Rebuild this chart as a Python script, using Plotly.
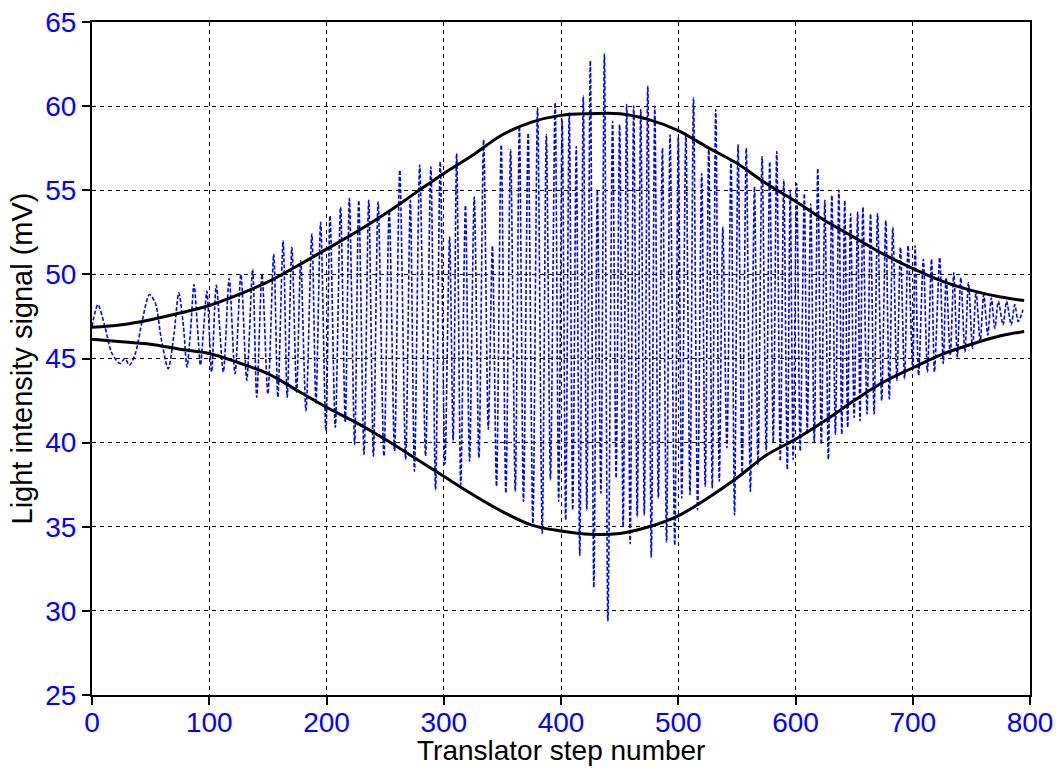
import plotly.graph_objects as go

# Interferometer signal: turning points of the measured light intensity (mV)
signal_step = [
    0, 5, 11, 17, 24, 28, 32, 37, 43, 49, 54, 59, 65, 70, 74, 78, 81, 84, 87, 90,
    92.5, 95, 98, 102, 106, 112, 117, 122, 127, 132, 137, 140.5, 145, 150, 155, 158.5,
    163, 166.5, 170.5, 174.5, 178, 182.5, 187.5, 191, 195, 199.5, 203, 207.5, 212, 216,
    219.5, 224, 227.5, 232, 236, 240, 244, 249, 253.5, 258, 262.5, 267.5, 271.5, 275,
    279.5, 284.5, 289, 293, 297, 301, 305, 308, 311, 314.5, 318.5, 322, 326, 330, 334,
    338, 341.5, 345, 349, 353, 357, 361, 364.5, 368, 372, 376, 380, 384, 387.5, 391,
    395, 398, 401, 404, 407, 410, 413, 416, 419, 422, 425, 428, 431, 434, 437, 440,
    444, 447, 450, 453, 456, 459, 462, 465, 468, 471, 474, 477, 480, 483, 486.5, 490,
    493, 497, 500, 503, 506.5, 510, 513, 516.5, 520, 523, 526, 529, 532, 535, 538,
    541.5, 545, 548, 551, 554.5, 558, 561.5, 565, 568, 571.5, 575, 578, 581, 584, 587,
    590, 593, 595.5, 598, 601, 604, 607.5, 610, 613, 616, 619, 622, 625, 628, 631, 634,
    637, 639.5, 642, 644.5, 647, 650, 653, 655, 657.5, 661, 664, 667, 670, 673.5, 677,
    680, 683, 686.5, 689.5, 693, 696, 700, 702, 705, 709, 712.5, 716, 718.5, 723, 726,
    728.5, 732, 735, 738, 741, 744.5, 747.5, 751, 754, 757.5, 760.5, 764, 767, 770,
    773, 777, 780, 784, 787, 790, 794,
]
signal_mv = [
    46.9, 48.2, 46.9, 45.3, 44.7, 45.0, 44.6, 45.3, 47.3, 48.8, 48.3, 46.2, 44.4, 46.5,
    48.9, 46.9, 44.5, 46.6, 49.4, 46.8, 44.6, 46.6, 49.0, 44.2, 49.35, 44.2, 49.75,
    44.1, 50.0, 43.7, 50.3, 42.7, 50.0, 42.9, 51.2, 42.7,
    52.0, 42.7, 51.6, 43.0, 50.8, 41.9, 52.4, 42.3, 53.1, 40.7, 53.5, 40.9, 54.0, 41.2,
    54.5, 39.9, 54.4, 39.3, 54.4, 39.2, 54.3, 39.2, 53.8, 39.5, 56.2, 39.0, 54.4, 38.3,
    56.5, 39.2, 56.4, 37.2, 56.7, 38.7, 52.2, 40.1, 57.2, 37.5, 54.1, 38.9, 54.6, 39.1,
    58.0, 40.8, 51.7, 37.4, 57.7, 37.0, 57.4, 37.1, 58.8, 36.5, 58.4, 35.2, 59.9, 34.6,
    58.3, 37.8, 60.2, 36.5, 59.2, 35.4, 59.6, 36.0, 57.6, 33.3, 60.6, 36.0, 62.7, 31.4,
    55.0, 37.0, 63.1, 29.4, 59.1, 37.9, 58.9, 35.0, 60.1, 34.0, 60.0, 35.6, 59.8, 35.7,
    61.2, 33.2, 60.0, 36.7, 57.5, 34.1, 58.3, 33.9, 58.2, 36.7, 58.4, 36.9, 60.5, 36.0,
    56.0, 37.4, 57.6, 37.3, 59.8, 37.7, 52.8, 39.7, 56.8, 35.7, 57.7, 38.2, 57.5, 37.1,
    55.2, 38.7, 57.0, 39.5, 56.7, 40.0, 57.3, 38.9, 55.6, 38.4, 55.0, 39.0, 55.4, 39.5,
    54.8, 40.5, 54.2, 40.0, 56.3, 39.9, 54.4, 39.0, 54.7, 40.5, 55.0, 40.5, 54.4, 40.9,
    53.6, 41.5, 53.7, 41.3, 54.0, 41.7, 53.6, 41.7, 53.6, 42.5, 53.2, 42.6, 52.8, 43.7,
    51.6, 43.8, 51.7, 44.3, 51.7, 44.0, 50.9, 44.2, 50.9, 44.2, 51.0, 44.7, 49.8, 45.2,
    50.1, 45.1, 49.8, 45.4, 49.5, 45.6, 49.0, 46.0, 48.8, 46.4, 48.6, 46.8, 48.4, 47.0,
    48.4, 47.0, 48.2, 47.2, 47.9,
]

# Upper and lower envelopes of the fringe signal
env_step = [0, 25, 50, 75, 100, 125, 150, 175, 200, 225, 250, 275, 300, 325, 350,
            375, 400, 425, 450, 475, 500, 525, 550, 575, 600, 625, 650, 675, 700,
            725, 750, 775, 795]
env_upper = [46.85, 47.0, 47.3, 47.7, 48.15, 48.8, 49.55, 50.5, 51.5, 52.5, 53.6,
             54.8, 56.0, 57.1, 58.3, 59.05, 59.45, 59.55, 59.55, 59.2, 58.55, 57.55,
             56.6, 55.4, 54.35, 53.2, 52.2, 51.2, 50.35, 49.6, 49.05, 48.65, 48.45]
env_lower = [46.15, 46.0, 45.85, 45.55, 45.3, 44.75, 44.1, 43.1, 42.1, 41.2, 40.2,
             39.1, 38.0, 36.9, 35.9, 35.1, 34.75, 34.55, 34.6, 35.0, 35.65, 36.7,
             37.9, 39.25, 40.2, 41.3, 42.5, 43.6, 44.45, 45.25, 45.85, 46.35, 46.6]

x_ticks = [0, 100, 200, 300, 400, 500, 600, 700, 800]
y_ticks = [25, 30, 35, 40, 45, 50, 55, 60, 65]
x_title = "Translator step number"
y_title = "Light intensity signal (mV)"

FONT = "Liberation Sans, Arial, sans-serif"
PLOT_H = 768 - 22 - 73  # plot-area height in px

fig = go.Figure()
fig.add_trace(go.Scatter(
    x=signal_step, y=signal_mv, mode="lines",
    line=dict(color="#0000ff", width=1.6, dash="4px,2px", shape="spline", smoothing=0.8),
    showlegend=False,
))
for env in (env_upper, env_lower):
    fig.add_trace(go.Scatter(
        x=env_step, y=env, mode="lines",
        line=dict(color="black", width=3, shape="spline"),
        showlegend=False,
    ))

axis_common = dict(
    showline=True, linecolor="black", linewidth=2, mirror=True,
    ticks="outside", ticklen=8, tickwidth=1.5, tickcolor="black",
    showgrid=True, gridcolor="black", gridwidth=1, griddash="4px,4px",
    zeroline=False, tickfont=dict(family=FONT, size=28, color="#0000ff"),
)
fig.update_xaxes(range=[0, 800], tickvals=x_ticks, ticklabelstandoff=-7, **axis_common)
fig.update_yaxes(
    range=[25, 65], tickvals=y_ticks,
    title=dict(text=y_title, font=dict(family=FONT, size=29, color="black"), standoff=4),
    **axis_common,
)
# x-axis title placed just under the tick labels
fig.add_annotation(
    text=x_title, xref="paper", yref="paper", x=0.5, y=-(768 - 695) / PLOT_H,
    xanchor="center", yanchor="bottom", showarrow=False,
    font=dict(family=FONT, size=28, color="black"),
)
fig.update_layout(
    width=1056, height=768,
    margin=dict(l=92, r=26, t=22, b=73, autoexpand=False),
    plot_bgcolor="white", paper_bgcolor="white",
)
fig.write_html("out.html")
